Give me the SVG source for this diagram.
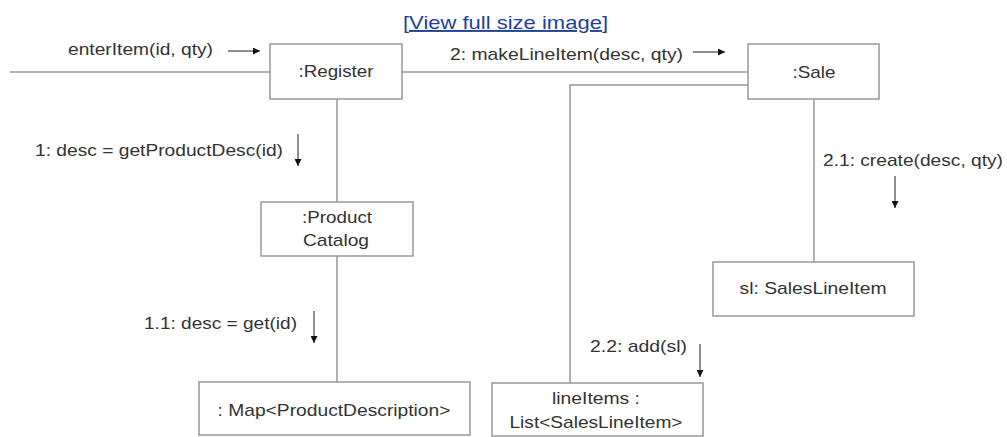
<svg xmlns="http://www.w3.org/2000/svg" width="1007" height="437" viewBox="0 0 1007 437">
<defs>
<marker id="ah" viewBox="0 0 10 10" refX="10" refY="5" markerWidth="9" markerHeight="7" markerUnits="userSpaceOnUse" orient="auto">
<path d="M0,0 L10,5 L0,10 z" fill="#111"/>
</marker>
<style>
.box{fill:#fff;stroke:#999;stroke-width:1.5}
.ln{fill:none;stroke:#999;stroke-width:1.5}
.msg{fill:none;stroke:#444;stroke-width:1.2;marker-end:url(#ah)}
.t{font-family:"Liberation Sans",Arial,sans-serif;font-size:17px;fill:#333}
.c{text-anchor:middle}
.link{font-family:"Liberation Sans",Arial,sans-serif;font-size:19px;fill:#1f3f9f;text-decoration:underline}
</style>
</defs>
<rect width="1007" height="437" fill="#fff"/>
<text class="link" x="403" y="29" textLength="205" lengthAdjust="spacingAndGlyphs">[View full size image]</text>
<g id="connectors">
<line class="ln" x1="10" y1="72" x2="270" y2="72"/>
<line class="ln" x1="402" y1="72" x2="748" y2="72"/>
<polyline class="ln" points="748,85 570,85 570,383"/>
<line class="ln" x1="337" y1="99" x2="337" y2="202"/>
<line class="ln" x1="337" y1="256" x2="337" y2="382"/>
<line class="ln" x1="814" y1="99" x2="814" y2="262"/>
<line class="msg" x1="228" y1="51" x2="260" y2="51"/>
<line class="msg" x1="693" y1="52" x2="725" y2="52"/>
<line class="msg" x1="298" y1="134" x2="298" y2="166"/>
<line class="msg" x1="895" y1="176" x2="895" y2="208"/>
<line class="msg" x1="314" y1="311" x2="314" y2="343"/>
<line class="msg" x1="700" y1="344" x2="700" y2="377"/>
<text class="t" x="68" y="55" textLength="145" lengthAdjust="spacingAndGlyphs">enterItem(id, qty)</text>
<text class="t" x="450" y="60" textLength="233" lengthAdjust="spacingAndGlyphs">2: makeLineItem(desc, qty)</text>
<text class="t" x="35" y="156" textLength="248" lengthAdjust="spacingAndGlyphs">1: desc = getProductDesc(id)</text>
<text class="t" x="823" y="166" textLength="180" lengthAdjust="spacingAndGlyphs">2.1: create(desc, qty)</text>
<text class="t" x="144" y="329" textLength="153" lengthAdjust="spacingAndGlyphs">1.1: desc = get(id)</text>
<text class="t" x="590" y="352" textLength="97" lengthAdjust="spacingAndGlyphs">2.2: add(sl)</text>
</g>
<g id="register">
<rect class="box" x="270" y="44" width="132" height="55"/>
<text class="t c" x="336" y="77" textLength="75" lengthAdjust="spacingAndGlyphs">:Register</text>
</g>
<g id="sale">
<rect class="box" x="748" y="44" width="131" height="55"/>
<text class="t c" x="814" y="78" textLength="43" lengthAdjust="spacingAndGlyphs">:Sale</text>
</g>
<g id="productCatalog">
<rect class="box" x="261" y="202" width="152" height="54"/>
<text class="t c" x="337" y="223" textLength="70" lengthAdjust="spacingAndGlyphs">:Product</text>
<text class="t c" x="336" y="246" textLength="66" lengthAdjust="spacingAndGlyphs">Catalog</text>
</g>
<g id="salesLineItem">
<rect class="box" x="713" y="262" width="201" height="54"/>
<text class="t c" x="813" y="294" textLength="147" lengthAdjust="spacingAndGlyphs">sl: SalesLineItem</text>
</g>
<g id="map">
<rect class="box" x="199" y="382" width="271" height="53"/>
<text class="t c" x="334" y="416" textLength="233" lengthAdjust="spacingAndGlyphs">: Map&lt;ProductDescription&gt;</text>
</g>
<g id="lineItems">
<rect class="box" x="492" y="383" width="211" height="53"/>
<text class="t c" x="596" y="404" textLength="88" lengthAdjust="spacingAndGlyphs">lineItems :</text>
<text class="t c" x="596" y="428" textLength="173" lengthAdjust="spacingAndGlyphs">List&lt;SalesLineItem&gt;</text>
</g>
</svg>
